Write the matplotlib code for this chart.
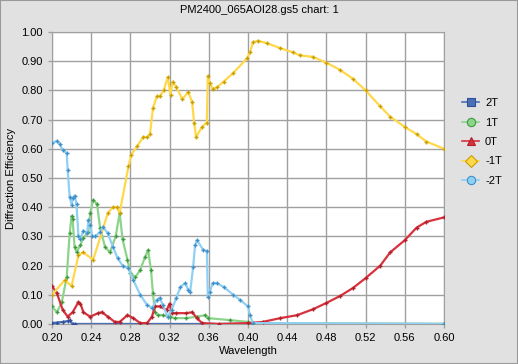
import matplotlib.pyplot as plt
from matplotlib.lines import Line2D

plt.rcParams['font.family'] = ['Liberation Sans', 'DejaVu Sans']

# wavelength / efficiency pairs
w_m1 = [0.200, 0.213, 0.220, 0.227, 0.232, 0.242, 0.257, 0.262, 0.266, 0.269, 0.278, 0.281,
        0.287, 0.293, 0.297, 0.300, 0.303, 0.307, 0.310, 0.314, 0.318, 0.321, 0.323, 0.327,
        0.333, 0.339, 0.343, 0.345, 0.347, 0.353, 0.358, 0.359, 0.361, 0.364, 0.368, 0.375,
        0.385, 0.399, 0.402, 0.405, 0.410, 0.419, 0.433, 0.446, 0.453, 0.466, 0.480, 0.494,
        0.507, 0.520, 0.535, 0.545, 0.560, 0.572, 0.582, 0.600]
m1 = [0.10, 0.15, 0.13, 0.236, 0.245, 0.22, 0.38, 0.40, 0.40, 0.38, 0.54, 0.58,
      0.61, 0.64, 0.64, 0.65, 0.74, 0.78, 0.78, 0.80, 0.845, 0.785, 0.83, 0.81,
      0.77, 0.795, 0.76, 0.69, 0.64, 0.675, 0.69, 0.85, 0.825, 0.805, 0.81, 0.83,
      0.86, 0.91, 0.93, 0.965, 0.97, 0.962, 0.945, 0.93, 0.92, 0.915, 0.895, 0.87,
      0.84, 0.80, 0.745, 0.71, 0.675, 0.65, 0.625, 0.60]

w_0 = [0.200, 0.205, 0.211, 0.216, 0.221, 0.227, 0.229, 0.232, 0.239, 0.247, 0.251, 0.257,
       0.264, 0.269, 0.277, 0.283, 0.290, 0.297, 0.302, 0.305, 0.310, 0.317, 0.320, 0.322,
       0.327, 0.337, 0.343, 0.348, 0.353, 0.370, 0.400, 0.415, 0.433, 0.450, 0.466, 0.480,
       0.494, 0.507, 0.520, 0.535, 0.545, 0.560, 0.572, 0.582, 0.600]
r0 = [0.13, 0.105, 0.048, 0.025, 0.04, 0.075, 0.07, 0.04, 0.025, 0.037, 0.04, 0.025,
      0.007, 0.007, 0.03, 0.02, 0.003, 0.003, 0.025, 0.06, 0.06, 0.048, 0.07, 0.037,
      0.037, 0.037, 0.04, 0.02, 0.003, 0.0, 0.003, 0.007, 0.02, 0.03, 0.05, 0.072,
      0.096, 0.123, 0.157, 0.20, 0.245, 0.287, 0.33, 0.35, 0.365]

w_p1 = [0.200, 0.205, 0.210, 0.215, 0.218, 0.220, 0.221, 0.223, 0.225, 0.229, 0.232, 0.237,
        0.239, 0.242, 0.246, 0.249, 0.254, 0.259, 0.265, 0.269, 0.272, 0.277, 0.280, 0.285,
        0.290, 0.295, 0.298, 0.301, 0.303, 0.305, 0.308, 0.313, 0.320, 0.325, 0.337, 0.348,
        0.356, 0.359, 0.382, 0.400, 0.404, 0.600]
p1 = [0.06, 0.04, 0.075, 0.16, 0.31, 0.37, 0.36, 0.265, 0.245, 0.27, 0.295, 0.315,
      0.38, 0.425, 0.41, 0.33, 0.265, 0.245, 0.30, 0.38, 0.29, 0.22, 0.175, 0.16,
      0.185, 0.23, 0.253, 0.185, 0.105, 0.04, 0.03, 0.03, 0.025, 0.02, 0.02, 0.025,
      0.03, 0.02, 0.013, 0.007, 0.003, 0.0]

w_p2 = [0.200, 0.205, 0.211, 0.216, 0.218, 0.221, 0.223, 0.600]
p2 = [0.003, 0.005, 0.007, 0.010, 0.012, 0.0, 0.0, 0.0]

w_m2 = [0.200, 0.205, 0.208, 0.211, 0.215, 0.216, 0.218, 0.220, 0.221, 0.223, 0.225, 0.227,
        0.229, 0.232, 0.236, 0.237, 0.239, 0.241, 0.244, 0.249, 0.252, 0.257, 0.262, 0.267,
        0.272, 0.278, 0.283, 0.290, 0.297, 0.302, 0.307, 0.310, 0.313, 0.318, 0.322, 0.327,
        0.331, 0.336, 0.339, 0.341, 0.344, 0.346, 0.348, 0.354, 0.358, 0.359, 0.361, 0.364,
        0.368, 0.375, 0.385, 0.392, 0.400, 0.402, 0.405, 0.600]
m2 = [0.62, 0.627, 0.615, 0.595, 0.585, 0.527, 0.435, 0.408, 0.43, 0.44, 0.41, 0.30,
      0.29, 0.32, 0.31, 0.355, 0.34, 0.30, 0.30, 0.315, 0.333, 0.31, 0.265, 0.225,
      0.20, 0.19, 0.15, 0.10, 0.065, 0.055, 0.082, 0.09, 0.065, 0.025, 0.048, 0.09,
      0.127, 0.14, 0.116, 0.11, 0.195, 0.27, 0.287, 0.255, 0.25, 0.093, 0.11, 0.14,
      0.14, 0.127, 0.10, 0.082, 0.06, 0.03, 0.003, 0.0]

labels = ['2T', '1T', '0T', '-1T', '-2T']

fig = plt.figure(figsize=(5.18, 3.64), dpi=100, facecolor='#e1e1e1')
ax = fig.add_axes([0.1004, 0.110, 0.7568, 0.802])
ax.set_facecolor('white')

series = [
    (w_p2, p2, '#4a6fb5', '#2f4f9a', 's'),
    (w_p1, p1, '#8cd48c', '#3f9a3f', 'o'),
    (w_0, r0, '#d7323c', '#b0202a', '^'),
    (w_m1, m1, '#ffd84a', '#c9a000', 'D'),
    (w_m2, m2, '#8fd0f5', '#3f8fc8', 'o'),
]
for (x, y, lc, mc, mk), lab in zip(series, labels):
    ax.plot(x, y, color=lc, lw=1.6, marker='+', ms=3.5, mec=mc, mew=1.0, zorder=3)

handles = [Line2D([], [], color=lc, lw=1.2, marker=mk, ms=6, mfc=lc, mec=mc, mew=0.8)
           for (x, y, lc, mc, mk) in series]
fig.legend(handles, labels, loc='center left', bbox_to_anchor=(0.872, 0.61),
           frameon=False, fontsize=8, handlelength=1.6, labelspacing=0.85,
           handletextpad=0.5)

ax.set_xlim(0.2, 0.6)
ax.set_ylim(0, 1.0)
ax.set_xticks([0.20 + 0.04 * i for i in range(11)])
ax.set_yticks([0.1 * i for i in range(11)])
ax.xaxis.set_major_formatter(plt.FormatStrFormatter('%.2f'))
ax.yaxis.set_major_formatter(plt.FormatStrFormatter('%.2f'))
ax.tick_params(labelsize=8, length=3, color='#a0a0a0', width=1)
ax.grid(True, color='#a0a0a0', lw=1)
for s in ax.spines.values():
    s.set_color('#a0a0a0')

ax.set_xlabel('Wavelength', fontsize=8, labelpad=2)
ax.set_ylabel('Diffraction Efficiency', fontsize=8, labelpad=4)
fig.suptitle('PM2400_065AOI28.gs5 chart: 1', fontsize=8, y=0.985)

fig.patches.append(plt.Rectangle((0, 0), 1, 1, transform=fig.transFigure,
                                 fill=False, ec='#9a9a9a', lw=1.5))

fig.savefig('out.png', dpi=100, facecolor=fig.get_facecolor())
